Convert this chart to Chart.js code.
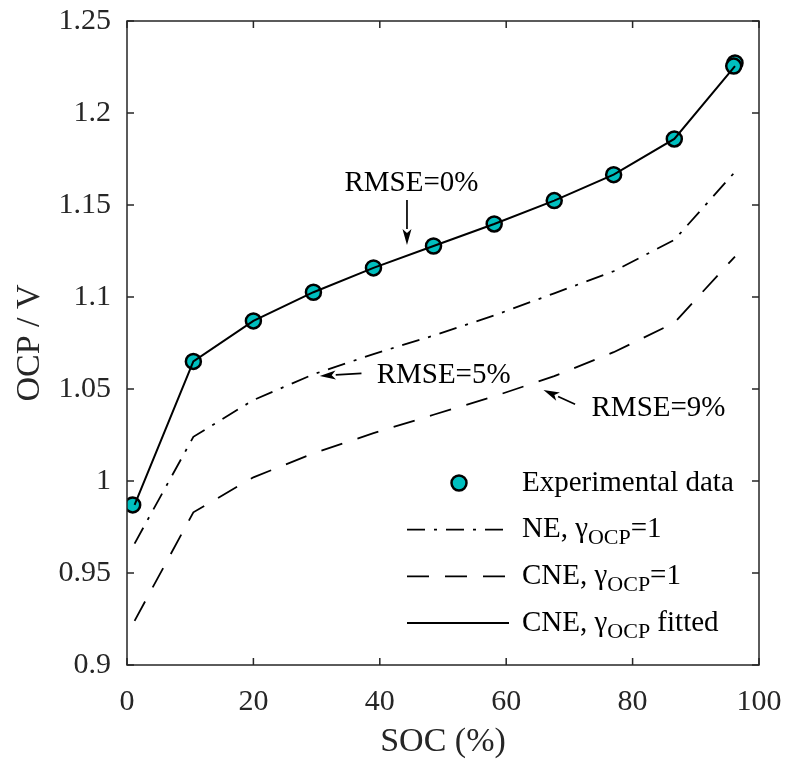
<!DOCTYPE html>
<html>
<head>
<meta charset="utf-8">
<script src="https://cdn.jsdelivr.net/npm/chart.js@4"></script>
<style>
  html, body { margin: 0; padding: 0; background: #fff; }
  #wrap { width: 786px; height: 762px; }
</style>
</head>
<body>
<div id="wrap"><canvas id="ocpChart" width="786" height="762"></canvas></div>
<script>
// values
const expSoc = [0.9, 10.5, 20.0, 29.5, 39.0, 48.5, 58.1, 67.6, 77.0, 86.6, 96.2, 96.0];
const expOcp = [0.987, 1.065, 1.087, 1.1026, 1.1158, 1.1277, 1.1397, 1.1524, 1.1665, 1.1859, 1.2272, 1.2255];

const modelSoc = [1.2, 10.5, 20.0, 29.5, 39.0, 48.5, 58.1, 67.6, 77.0, 86.6, 96.2];
const neOcp = [0.966, 1.024, 1.044, 1.058, 1.069, 1.079, 1.090, 1.102, 1.114, 1.131, 1.168];
const cneOcp = [0.924, 0.983, 1.002, 1.015, 1.026, 1.036, 1.046, 1.057, 1.070, 1.086, 1.122];
const fitOcp = [0.987, 1.065, 1.087, 1.1026, 1.1158, 1.1277, 1.1397, 1.1524, 1.1665, 1.1859, 1.2255];

const xTicks = [0, 20, 40, 60, 80, 100];
const yTicks = [0.9, 0.95, 1, 1.05, 1.1, 1.15, 1.2, 1.25];
const yTickLabels = ["0.9", "0.95", "1", "1.05", "1.1", "1.15", "1.2", "1.25"];

const notes = [
  { text: "RMSE=0%", x: 45.0, y: 1.162, align: "center", from: [44.3, 1.1527], to: [44.3, 1.1283] },
  { text: "RMSE=5%", x: 39.5, y: 1.0576, align: "left", from: [37.1, 1.0585], to: [30.5, 1.0571] },
  { text: "RMSE=9%", x: 73.5, y: 1.0397, align: "left", from: [70.9, 1.0417], to: [65.9, 1.0495] }
];

const SERIF = "'Liberation Serif', 'Times New Roman', serif";
const AXIS = "#262626";
const CYAN = "rgb(0,191,191)";

const toPts = (xs, ys) => xs.map((x, i) => ({ x: x, y: ys[i] }));

// box + inward ticks on all four sides
const boxPlugin = {
  id: "box",
  afterDraw(chart) {
    const { ctx, chartArea: a, scales } = chart;
    ctx.save();
    ctx.strokeStyle = AXIS;
    ctx.lineWidth = 1.5;
    ctx.strokeRect(a.left, a.top, a.right - a.left, a.bottom - a.top);
    ctx.beginPath();
    xTicks.forEach(v => {
      const px = scales.x.getPixelForValue(v);
      ctx.moveTo(px, a.bottom); ctx.lineTo(px, a.bottom - 7);
      ctx.moveTo(px, a.top); ctx.lineTo(px, a.top + 7);
    });
    yTicks.forEach(v => {
      const py = scales.y.getPixelForValue(v);
      ctx.moveTo(a.left, py); ctx.lineTo(a.left + 7, py);
      ctx.moveTo(a.right, py); ctx.lineTo(a.right - 7, py);
    });
    ctx.stroke();
    ctx.restore();
  }
};

function arrow(ctx, x1, y1, x2, y2) {
  const ang = Math.atan2(y2 - y1, x2 - x1);
  const hl = 16, hw = 4.5;
  ctx.beginPath();
  ctx.moveTo(x1, y1);
  ctx.lineTo(x2 - hl * Math.cos(ang), y2 - hl * Math.sin(ang));
  ctx.stroke();
  ctx.beginPath();
  ctx.moveTo(x2, y2);
  ctx.lineTo(x2 - hl * Math.cos(ang) + hw * Math.sin(ang), y2 - hl * Math.sin(ang) - hw * Math.cos(ang));
  ctx.lineTo(x2 - hl * 0.75 * Math.cos(ang), y2 - hl * 0.75 * Math.sin(ang));
  ctx.lineTo(x2 - hl * Math.cos(ang) - hw * Math.sin(ang), y2 - hl * Math.sin(ang) + hw * Math.cos(ang));
  ctx.closePath();
  ctx.fill();
}

const notePlugin = {
  id: "notes",
  afterDatasetsDraw(chart) {
    const { ctx, scales } = chart;
    ctx.save();
    ctx.fillStyle = "#000";
    ctx.strokeStyle = "#000";
    ctx.lineWidth = 1.7;
    ctx.font = "29px " + SERIF;
    ctx.textBaseline = "middle";
    notes.forEach(n => {
      ctx.textAlign = n.align;
      ctx.fillText(n.text, scales.x.getPixelForValue(n.x), scales.y.getPixelForValue(n.y));
      arrow(ctx,
        scales.x.getPixelForValue(n.from[0]), scales.y.getPixelForValue(n.from[1]),
        scales.x.getPixelForValue(n.to[0]), scales.y.getPixelForValue(n.to[1]));
    });
    ctx.restore();
  }
};

// legend with subscripts, drawn on the canvas
const legendPlugin = {
  id: "subLegend",
  afterDraw(chart) {
    const { ctx, chartArea: a } = chart;
    const x0 = a.right - 352, y0 = a.bottom - 182, row = 46.7;
    const textX = x0 + 115;
    ctx.save();
    ctx.textBaseline = "middle";
    ctx.textAlign = "left";
    chart.data.datasets.forEach((ds, i) => {
      const y = y0 + i * row;
      if (ds.showLine === false) {
        ctx.beginPath();
        ctx.arc(x0 + 52, y, 7.5, 0, Math.PI * 2);
        ctx.fillStyle = ds.backgroundColor;
        ctx.fill();
        ctx.lineWidth = 2.5;
        ctx.strokeStyle = "#000";
        ctx.stroke();
      } else {
        ctx.beginPath();
        ctx.setLineDash(ds.borderDash || []);
        ctx.lineWidth = ds.borderWidth;
        ctx.strokeStyle = ds.borderColor;
        ctx.moveTo(x0, y);
        ctx.lineTo(x0 + 102, y);
        ctx.stroke();
        ctx.setLineDash([]);
      }
      ctx.fillStyle = "#000";
      let x = textX;
      ds.legendParts.forEach(p => {
        if (p.sub) {
          ctx.font = "22px " + SERIF;
          ctx.fillText(p.sub, x, y + 9);
          x += ctx.measureText(p.sub).width;
        } else {
          ctx.font = "29px " + SERIF;
          ctx.fillText(p.t, x, y);
          x += ctx.measureText(p.t).width;
        }
      });
    });
    ctx.restore();
  }
};

const ctx = document.getElementById("ocpChart").getContext("2d");
new Chart(ctx, {
  type: "scatter",
  data: {
    datasets: [
      {
        label: "Experimental data",
        legendParts: [{ t: "Experimental data" }],
        data: toPts(expSoc, expOcp),
        showLine: false,
        pointRadius: 7.5,
        pointBorderWidth: 2.5,
        pointBorderColor: "#000",
        backgroundColor: CYAN,
        order: 2
      },
      {
        label: "NE, γOCP=1",
        legendParts: [{ t: "NE, γ" }, { sub: "OCP" }, { t: "=1" }],
        data: toPts(modelSoc, neOcp),
        showLine: true,
        borderColor: "#000",
        borderWidth: 1.8,
        borderDash: [18, 9, 3, 9],
        pointRadius: 0,
        order: 1
      },
      {
        label: "CNE, γOCP=1",
        legendParts: [{ t: "CNE, γ" }, { sub: "OCP" }, { t: "=1" }],
        data: toPts(modelSoc, cneOcp),
        showLine: true,
        borderColor: "#000",
        borderWidth: 1.8,
        borderDash: [22, 16],
        pointRadius: 0,
        order: 1
      },
      {
        label: "CNE, γOCP fitted",
        legendParts: [{ t: "CNE, γ" }, { sub: "OCP" }, { t: " fitted" }],
        data: toPts(modelSoc, fitOcp),
        showLine: true,
        borderColor: "#000",
        borderWidth: 2,
        pointRadius: 0,
        order: 0
      }
    ]
  },
  options: {
    responsive: false,
    animation: false,
    layout: { padding: { left: 10, right: 27, top: 21, bottom: 0 } },
    plugins: {
      legend: { display: false },
      tooltip: { enabled: false }
    },
    scales: {
      x: {
        type: "linear",
        min: 0,
        max: 100,
        afterBuildTicks: s => { s.ticks = xTicks.map(v => ({ value: v })); },
        afterFit: s => { s.height = 97; s.paddingLeft = 0; s.paddingRight = 0; },
        grid: { display: false, drawTicks: false },
        border: { display: false },
        ticks: {
          padding: 19,
          color: AXIS,
          font: { family: SERIF, size: 30 },
          maxRotation: 0
        },
        title: {
          display: true,
          text: "SOC (%)",
          color: AXIS,
          font: { family: SERIF, size: 34 },
          padding: { top: 0, bottom: 0 }
        }
      },
      y: {
        type: "linear",
        min: 0.9,
        max: 1.25,
        afterBuildTicks: s => { s.ticks = yTicks.map(v => ({ value: v })); },
        afterFit: s => { s.width = 117; s.paddingTop = 0; s.paddingBottom = 0; },
        grid: { display: false, drawTicks: false },
        border: { display: false },
        ticks: {
          padding: 16,
          color: AXIS,
          font: { family: SERIF, size: 30 },
          callback: (v) => yTickLabels[yTicks.indexOf(v)] ?? ""
        },
        title: {
          display: true,
          text: "OCP / V",
          color: AXIS,
          font: { family: SERIF, size: 34 },
          padding: { top: 0, bottom: 0 }
        }
      }
    }
  },
  plugins: [boxPlugin, notePlugin, legendPlugin]
});
</script>
</body>
</html>
